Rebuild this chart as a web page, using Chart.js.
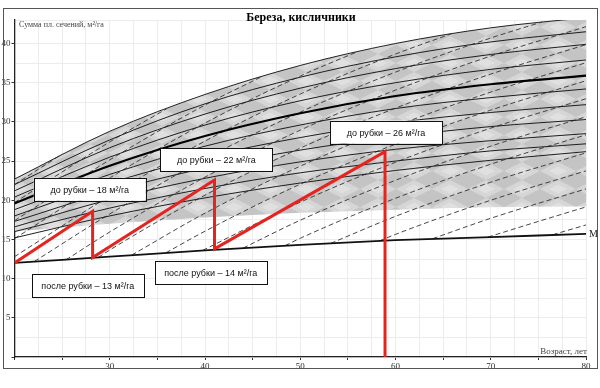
<!DOCTYPE html>
<html>
<head>
<meta charset="utf-8">
<script src="https://cdn.jsdelivr.net/npm/chart.js@4.4.1/dist/chart.umd.min.js"></script>
<style>
  html, body { margin: 0; padding: 0; background: #fff; }
</style>
</head>
<body>
<canvas id="chart" width="600" height="388"></canvas>
<script>
const ages = [20, 30, 40, 50, 60, 70, 80];

// shaded band
const bandTop = [22.7, 28.8, 33.5, 37.2, 40.0, 42.0, 43.3];
const bandBottom = [16.0, 17.0, 17.8, 18.4, 18.8, 19.1, 19.2];

// thin solid curves inside the band
const thinCurves = [
  [22.0, 27.7, 32.3, 35.7, 38.3, 40.2, 41.5],
  [21.2, 26.7, 31.0, 34.3, 36.8, 38.6, 39.9],
  [20.4, 25.5, 29.6, 32.7, 35.0, 36.7, 37.9],
  [18.8, 23.3, 26.9, 29.6, 31.7, 33.1, 34.2],
  [18.0, 22.2, 25.5, 28.0, 29.9, 31.2, 32.2],
  [17.3, 21.1, 24.1, 26.4, 28.1, 29.4, 30.3],
  [16.6, 20.1, 22.8, 24.9, 26.5, 27.6, 28.5],
  [16.0, 19.0, 21.5, 23.5, 25.0, 26.3, 27.2],
  [15.2, 18.0, 20.3, 22.2, 23.8, 25.1, 26.2]
];

// bold middle curve and the lower "M" line
const mainCurve = [19.6, 24.4, 28.2, 31.1, 33.3, 34.8, 35.9];
const mLine = [12.0, 12.8, 13.6, 14.3, 14.9, 15.3, 15.7];

// dashed growth lines: [age, value] points
const dashedLines = [
  [[20, 22.0], [25, 25.9]],
  [[20, 19.7], [30, 27.45], [36, 31.7]],
  [[20, 17.4], [30, 25.15], [40, 32.15], [46, 35.8]],
  [[20, 15.1], [30, 22.85], [40, 29.85], [50, 35.85], [56, 38.95]],
  [[20, 12.8], [30, 20.55], [40, 27.55], [50, 33.55], [60, 38.65], [66, 41.3]],
  [[22.1, 12.2], [30, 18.25], [40, 25.25], [50, 31.25], [60, 36.35], [70, 40.7], [75.4, 42.75]],
  [[25.4, 12.4], [30, 15.95], [40, 22.95], [50, 28.95], [60, 34.05], [70, 38.4], [80, 42.15]],
  [[28.8, 12.7], [30, 13.65], [40, 20.65], [50, 26.65], [60, 31.75], [70, 36.1], [80, 39.85]],
  [[32.3, 13.0], [40, 18.35], [50, 24.35], [60, 29.45], [70, 33.8], [80, 37.55]],
  [[35.9, 13.3], [40, 16.05], [50, 22.05], [60, 27.15], [70, 31.5], [80, 35.25]],
  [[39.75, 13.6], [50, 19.75], [60, 24.85], [70, 29.2], [80, 32.95]],
  [[44, 13.9], [50, 17.45], [60, 22.55], [70, 26.9], [80, 30.65]],
  [[48.4, 14.2], [50, 15.15], [60, 20.25], [70, 24.6], [80, 28.35]],
  [[53.2, 14.5], [60, 17.95], [70, 22.3], [80, 26.05]],
  [[58.3, 14.8], [60, 15.65], [70, 20.0], [80, 23.75]],
  [[63.9, 15.1], [70, 17.7], [80, 21.45]],
  [[69.7, 15.3], [75, 17.3], [80, 19.15]],
  [[76.5, 15.6], [80, 16.85]]
];

// red thinning regime
const cutAges = [20, 28.2, 28.2, 41, 41, 58.9, 58.9];
const cutValues = [12.0, 18.6, 12.7, 22.6, 13.8, 26.2, 0];

// callout boxes
const boxLabels = ['до рубки – 18 м²/га', 'до рубки – 22 м²/га', 'до рубки – 26 м²/га',
                   'после рубки – 13 м²/га', 'после рубки – 14 м²/га'];
const boxAges = [27.9, 41.2, 59.0, 27.7, 40.6];
const boxValues = [21.4, 25.2, 28.7, 9.1, 10.8];

const xTickLabels = [30, 40, 50, 60, 70, 80];
const yTickLabels = [5, 10, 15, 20, 25, 30, 35, 40];

const pts = (xs, ys) => xs.map((x, i) => ({x: x, y: ys[i]}));
const serif = '"Liberation Serif", "DejaVu Serif", serif';

// mottled grey for the scanned band
function bandPattern() {
  const c = document.createElement('canvas');
  c.width = 36; c.height = 18;
  const g = c.getContext('2d');
  g.fillStyle = '#c4c4c4';
  g.fillRect(0, 0, 36, 18);
  g.fillStyle = '#d6d6d6';
  g.beginPath();
  g.moveTo(0, 9); g.lineTo(18, 0); g.lineTo(36, 9); g.lineTo(18, 18); g.closePath();
  g.fill();
  g.fillStyle = '#e0e0e0';
  g.beginPath();
  g.moveTo(9, 9); g.lineTo(18, 4.5); g.lineTo(27, 9); g.lineTo(18, 13.5); g.closePath();
  g.fill();
  return g.createPattern(c, 'repeat');
}

const datasets = [];
datasets.push({data: pts(ages, bandBottom), borderWidth: 0, pointRadius: 0, fill: false,
  cubicInterpolationMode: 'monotone', order: 20});
datasets.push({data: pts(ages, bandTop), borderColor: '#222', borderWidth: 1, pointRadius: 0,
  fill: '-1', backgroundColor: bandPattern(), cubicInterpolationMode: 'monotone', order: 19});
thinCurves.forEach(c => datasets.push({data: pts(ages, c), borderColor: '#1e1e1e', borderWidth: 1,
  pointRadius: 0, fill: false, cubicInterpolationMode: 'monotone', order: 5}));
dashedLines.forEach(l => datasets.push({data: l.map(p => ({x: p[0], y: p[1]})), borderColor: '#333',
  borderWidth: 0.9, borderDash: [5, 3], pointRadius: 0, fill: false,
  cubicInterpolationMode: 'monotone', order: 6}));
datasets.push({data: pts(ages, mainCurve), borderColor: '#000', borderWidth: 2.2, pointRadius: 0,
  fill: false, cubicInterpolationMode: 'monotone', order: 4});
datasets.push({data: pts(ages, mLine), borderColor: '#111', borderWidth: 1.8, pointRadius: 0,
  fill: false, cubicInterpolationMode: 'monotone', order: 4});
datasets.push({data: pts(cutAges, cutValues), borderColor: '#e52420', borderWidth: 3, pointRadius: 0,
  fill: false, tension: 0, order: 0});

// frame, title, axis names and callouts
const extras = {
  id: 'extras',
  afterDraw(chart) {
    const ctx = chart.ctx;
    const xs = chart.scales.x, ys = chart.scales.y;
    ctx.save();
    ctx.strokeStyle = '#555';
    ctx.lineWidth = 1;
    ctx.strokeRect(3.5, 8.5, 594, 360);

    ctx.fillStyle = '#000';
    ctx.font = 'bold 12px ' + serif;
    ctx.textAlign = 'center';
    ctx.textBaseline = 'middle';
    ctx.fillText('Береза, кисличники', 301, 18);

    ctx.font = '8px ' + serif;
    ctx.fillStyle = '#444';
    ctx.textAlign = 'left';
    ctx.fillText('Сумма пл. сечений, м²/га', 19, 25);
    ctx.font = '9px ' + serif;
    ctx.textAlign = 'right';
    ctx.fillText('Возраст, лет', 587, 352);

    ctx.font = '10px ' + serif;
    ctx.fillStyle = '#222';
    ctx.textAlign = 'left';
    ctx.fillText('M', xs.getPixelForValue(80) + 3, ys.getPixelForValue(mLine[mLine.length - 1]));

    ctx.font = '9px "Liberation Sans", Arial, sans-serif';
    boxLabels.forEach((t, i) => {
      const cx = xs.getPixelForValue(boxAges[i]);
      const cy = ys.getPixelForValue(boxValues[i]);
      const w = 112, h = 23;
      ctx.fillStyle = '#fff';
      ctx.fillRect(cx - w / 2, cy - h / 2, w, h);
      ctx.strokeStyle = '#111';
      ctx.strokeRect(Math.round(cx - w / 2) + 0.5, Math.round(cy - h / 2) + 0.5, w, h);
      ctx.fillStyle = '#111';
      ctx.textAlign = 'center';
      ctx.fillText(t, cx, cy + 1);
    });
    ctx.restore();
  }
};

new Chart(document.getElementById('chart'), {
  type: 'line',
  data: {datasets: datasets},
  plugins: [extras],
  options: {
    responsive: false,
    animation: false,
    devicePixelRatio: 1,
    layout: {padding: {top: 20, right: 14, left: 0, bottom: 0}},
    plugins: {legend: {display: false}, tooltip: {enabled: false}, title: {display: false}},
    scales: {
      x: {
        type: 'linear', min: 20, max: 80,
        afterFit: s => { s.height = 31; },
        ticks: {stepSize: 2.5, autoSkip: false, maxRotation: 0, padding: 1,
          font: {family: serif, size: 9}, color: '#333',
          callback: v => xTickLabels.includes(v) ? String(v) : ''},
        grid: {color: '#ececec', lineWidth: 1, tickLength: 3,
          tickColor: c => (c.tick && c.tick.value % 5 === 0) ? '#333' : 'rgba(0,0,0,0)'},
        border: {color: '#222', width: 1.3}
      },
      y: {
        type: 'linear', min: 0, max: 43,
        afterFit: s => { s.width = 14.5; },
        ticks: {stepSize: 2.5, autoSkip: false, padding: 1,
          font: {family: serif, size: 9}, color: '#333',
          callback: v => yTickLabels.includes(v) ? String(v) : ''},
        grid: {color: '#ececec', lineWidth: 1, tickLength: 3,
          tickColor: c => (c.tick && c.tick.value % 5 === 0) ? '#333' : 'rgba(0,0,0,0)'},
        border: {color: '#222', width: 1.3}
      }
    }
  }
});
</script>
</body>
</html>
